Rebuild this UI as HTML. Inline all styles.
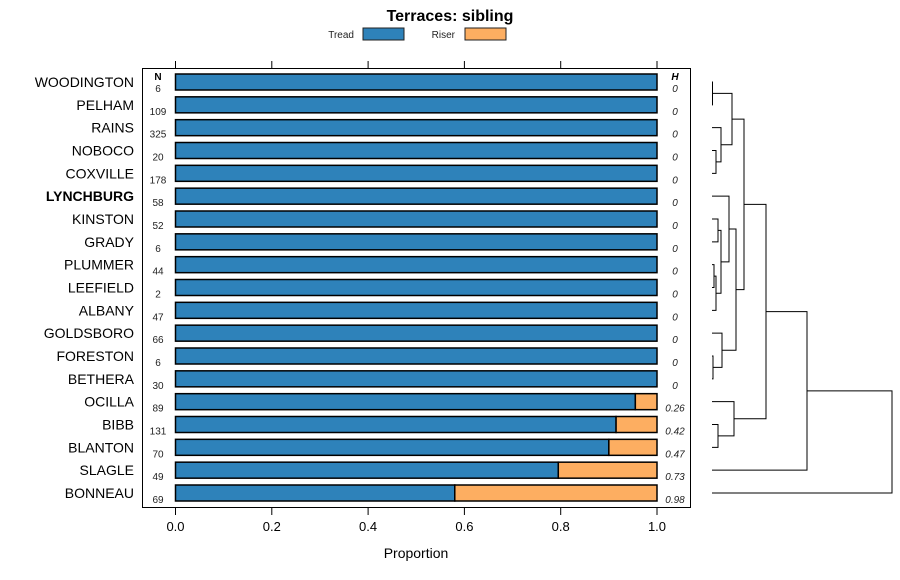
<!DOCTYPE html>
<html><head><meta charset="utf-8"><style>
body{margin:0;background:#fff;}
svg{display:block;font-family:"Liberation Sans",Arial,sans-serif;}
</style></head><body>
<svg id="chart" width="900" height="580" viewBox="0 0 900 580">
<text x="450" y="21" text-anchor="middle" font-size="16" font-weight="bold">Terraces: sibling</text>
<g>
<text x="354" y="38" text-anchor="end" font-size="10" fill="#222">Tread</text>
<rect x="363" y="28" width="41" height="12" fill="#2e82ba" stroke="#222" stroke-width="1"/>
<text x="455" y="38" text-anchor="end" font-size="10" fill="#222">Riser</text>
<rect x="465" y="28" width="41" height="12" fill="#fdae61" stroke="#222" stroke-width="1"/>
</g>
<rect x="142.5" y="68.5" width="548" height="439" fill="none" stroke="#000" stroke-width="1"/>
<g id="ticks"></g>
<g id="bars"></g>
<g id="dendro" stroke="#000" stroke-width="1" fill="none"></g>
<text x="158" y="80" text-anchor="middle" font-size="10" font-weight="bold">N</text>
<text x="675" y="80" text-anchor="middle" font-size="10" font-weight="bold" font-style="italic">H</text>
<text x="416" y="558" text-anchor="middle" font-size="14">Proportion</text>
</svg>
<script>
const categories=["WOODINGTON","PELHAM","RAINS","NOBOCO","COXVILLE","LYNCHBURG","KINSTON","GRADY","PLUMMER","LEEFIELD","ALBANY","GOLDSBORO","FORESTON","BETHERA","OCILLA","BIBB","BLANTON","SLAGLE","BONNEAU"];
const counts=[6,109,325,20,178,58,52,6,44,2,47,66,6,30,89,131,70,49,69];
const treadValues=[1,1,1,1,1,1,1,1,1,1,1,1,1,1,0.955,0.915,0.90,0.795,0.58];
const hLabels=["0","0","0","0","0","0","0","0","0","0","0","0","0","0","0.26","0.42","0.47","0.73","0.98"];
const tickValues=[0,0.2,0.4,0.6,0.8,1.0];
const tickLabels=["0.0","0.2","0.4","0.6","0.8","1.0"];
const boldCategory="LYNCHBURG";
const NS="http://www.w3.org/2000/svg";
const x=v=>175.5+v*481.5;
const y=i=>82+i*(493-82)/(categories.length-1);
function mk(tag,attrs,parent){const e=document.createElementNS(NS,tag);for(const k in attrs)e.setAttribute(k,attrs[k]);parent.appendChild(e);return e;}
const tg=document.getElementById('ticks');
tickValues.forEach((v,i)=>{
  const t1=mk('line',{x1:x(v),x2:x(v),y1:61,y2:68,stroke:'#000'},tg);
  
  
  const t2=mk('line',{x1:x(v),x2:x(v),y1:508,y2:515,stroke:'#000'},tg);
  
  
  const tl=mk('text',{x:x(v),y:531,'text-anchor':'middle','font-size':13},tg);
  tl.textContent=tickLabels[i];
  
  
});
const bg=document.getElementById('bars');
categories.forEach((c,i)=>{
  const cy=y(i);
  const lab=mk('text',{x:134,y:cy+5,'text-anchor':'end','font-size':14,'font-weight':c===boldCategory?'bold':'normal'},bg);
  lab.textContent=c;
  
  
  const n=mk('text',{x:158,y:cy+10,'text-anchor':'middle','font-size':10,fill:'#222'},bg);
  n.textContent=counts[i];
  
  
  const t=treadValues[i];
  const r1=mk('rect',{x:x(0),y:cy-8,width:x(t)-x(0),height:16,fill:'#2e82ba',stroke:'#000','stroke-width':1.5},bg);
  
  
  if(t<1){
    const r2=mk('rect',{x:x(t),y:cy-8,width:x(1)-x(t),height:16,fill:'#fdae61',stroke:'#000','stroke-width':1.5},bg);
    
    
  }
  const h=mk('text',{x:675,y:cy+10,'text-anchor':'middle','font-size':10,'font-style':'italic',fill:'#222'},bg);
  h.textContent=hLabels[i];
  
  
});
// dendrogram: [leafA index or node, leafB, height x]
const dg=document.getElementById('dendro');
function link(ya,xa,yb,xb,xh){
  const p=mk('path',{d:`M${xa},${ya}H${xh}V${yb}H${xb}`},dg);
  
  
  return [(ya+yb)/2,xh];
}
const L=i=>[y(i),712];
function j(a,b,h){return link(a[0],a[1],b[0],b[1],h);}
const n01=j(L(0),L(1),712.5);
const n34=j(L(3),L(4),716);
const n234=j(L(2),n34,721);
const nA=j(n01,n234,732);
const n67=j(L(6),L(7),718);
const n89=j(L(8),L(9),714);
const n8910=j(n89,L(10),716);
const nB=j(n67,n8910,721);
const nC=j(L(5),nB,729);
const n1213=j(L(12),L(13),713);
const nD=j(L(11),n1213,722);
const nE=j(nC,nD,736);
const nF=j(nA,nE,744);
const n1516=j(L(15),L(16),718);
const nG=j(L(14),n1516,734);
const nH=j(nF,nG,766);
const nI=j(nH,L(17),807);
j(nI,L(18),892);
</script>
</body></html>
